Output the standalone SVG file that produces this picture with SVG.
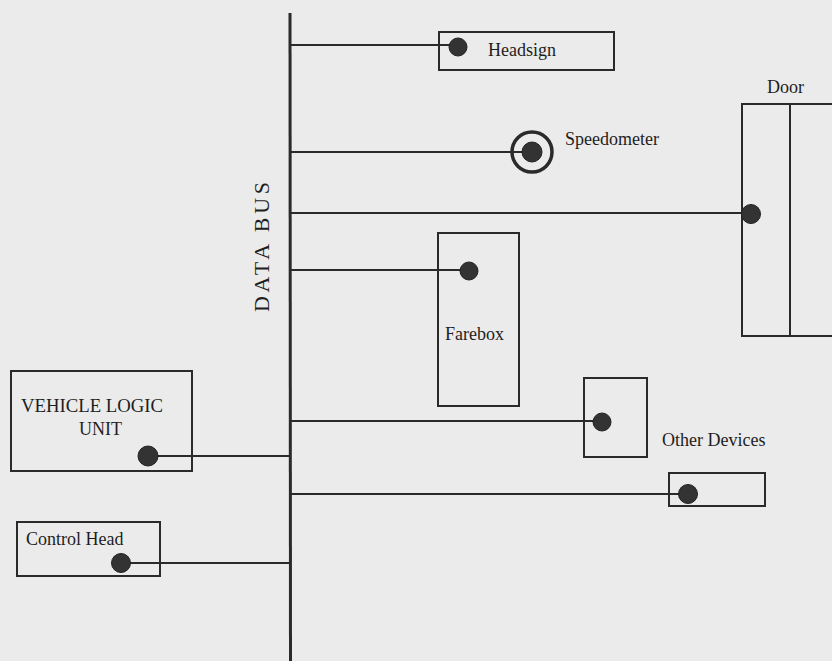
<svg xmlns="http://www.w3.org/2000/svg" width="832" height="661" viewBox="0 0 832 661">
<style>
.box{fill:none;stroke:#2a2a2a;stroke-width:2}
.wire{stroke:#2a2a2a;stroke-width:2;fill:none}
.dot{fill:#333;stroke:#222;stroke-width:1}
.lbl{font-family:"Liberation Serif",serif;font-size:18px;fill:#1e1e1e}
.bus{font-family:"Liberation Serif",serif;font-size:22px;fill:#1e1e1e}
</style>
<rect x="0" y="0" width="832" height="661" fill="#ebebeb"/>
<g id="connectors">
<line class="wire" x1="290" y1="45" x2="458" y2="45"/>
<line class="wire" x1="290" y1="152" x2="532" y2="152"/>
<line class="wire" x1="290" y1="213" x2="751" y2="213"/>
<line class="wire" x1="290" y1="270" x2="469" y2="270"/>
<line class="wire" x1="290" y1="421" x2="602" y2="421"/>
<line class="wire" x1="290" y1="494" x2="688" y2="494"/>
<line class="wire" x1="148" y1="456" x2="290" y2="456"/>
<line class="wire" x1="121" y1="563" x2="290" y2="563"/>
</g>
<g id="data-bus">
<line x1="290" y1="13" x2="290.5" y2="661" stroke="#2a2a2a" stroke-width="3"/>
<text class="bus" textLength="130" lengthAdjust="spacing" transform="translate(269,312) rotate(-90)">DATA BUS</text>
</g>
<g id="headsign">
<rect class="box" x="439" y="32" width="175" height="38"/>
<circle class="dot" cx="458" cy="47" r="9"/>
<text class="lbl" x="488" y="56">Headsign</text>
</g>
<g id="speedometer">
<circle cx="532" cy="152" r="20" fill="none" stroke="#2a2a2a" stroke-width="3.5"/>
<circle class="dot" cx="532" cy="152" r="10"/>
<text class="lbl" x="565" y="145">Speedometer</text>
</g>
<g id="door">
<rect class="box" x="742" y="104" width="100" height="232"/>
<line class="wire" x1="790" y1="104" x2="790" y2="336"/>
<circle class="dot" cx="751" cy="214" r="9.5"/>
<text class="lbl" x="767" y="93">Door</text>
</g>
<g id="farebox">
<rect class="box" x="438" y="233" width="81" height="173"/>
<circle class="dot" cx="469" cy="271" r="9"/>
<text class="lbl" x="445" y="340">Farebox</text>
</g>
<g id="other-devices">
<rect class="box" x="584" y="378" width="63" height="79"/>
<circle class="dot" cx="602" cy="422" r="9"/>
<text class="lbl" x="662" y="446">Other Devices</text>
</g>
<g id="other-device-2">
<rect class="box" x="669" y="473" width="96" height="33"/>
<circle class="dot" cx="688" cy="494" r="9.5"/>
</g>
<g id="vehicle-logic-unit">
<rect class="box" x="11" y="371" width="181" height="100"/>
<text class="lbl" x="21" y="412" textLength="142" lengthAdjust="spacingAndGlyphs">VEHICLE LOGIC</text>
<text class="lbl" x="79" y="435">UNIT</text>
<circle class="dot" cx="148" cy="456" r="10"/>
</g>
<g id="control-head">
<rect class="box" x="17" y="522" width="143" height="54"/>
<text class="lbl" x="26" y="545">Control Head</text>
<circle class="dot" cx="121" cy="563" r="9.5"/>
</g>
</svg>
